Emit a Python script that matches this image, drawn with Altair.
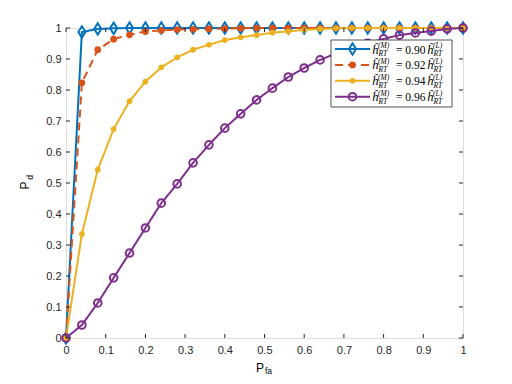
import altair as alt
import pandas as pd

pfa = [0.00, 0.04, 0.08, 0.12, 0.16, 0.20, 0.24, 0.28, 0.32, 0.36, 0.40, 0.44, 0.48,
       0.52, 0.56, 0.60, 0.64, 0.68, 0.72, 0.76, 0.80, 0.84, 0.88, 0.92, 0.96, 1.00]

pd_090 = [0, 0.987, 0.997, 0.999, 1, 1, 1, 1, 1, 1, 1, 1, 1,
          1, 1, 1, 1, 1, 1, 1, 1, 1, 1, 1, 1, 1]
pd_092 = [0, 0.823, 0.930, 0.964, 0.978, 0.989, 0.992, 0.995, 0.996, 0.997, 0.998, 0.999, 1,
          1, 1, 1, 1, 1, 1, 1, 1, 1, 1, 1, 1, 1]
pd_094 = [0, 0.335, 0.543, 0.674, 0.764, 0.827, 0.873, 0.905, 0.930, 0.946, 0.961, 0.970, 0.977,
          0.985, 0.989, 0.994, 0.997, 0.999, 1, 1, 1, 1, 1, 1, 1, 1]
pd_096 = [0, 0.042, 0.113, 0.194, 0.274, 0.355, 0.435, 0.497, 0.565, 0.623, 0.677, 0.723, 0.768,
          0.806, 0.842, 0.871, 0.897, 0.918, 0.936, 0.951, 0.965, 0.977, 0.984, 0.990, 0.997, 1.0]

ratios = ["0.90", "0.92", "0.94", "0.96"]
colors = ["#0072BD", "#D95319", "#EDB120", "#7E2F8E"]
ticks = [0, 0.1, 0.2, 0.3, 0.4, 0.5, 0.6, 0.7, 0.8, 0.9, 1]

W, H = 397, 310
AX = "#262626"
SANS = "Liberation Sans"
SERIF = "Liberation Serif"

xs = alt.Scale(domain=[0, 1], nice=False, zero=False)
ys = alt.Scale(domain=[0, 1], nice=False, zero=False)

xaxis = alt.Axis(values=ticks, format="~g", ticks=False, domain=False, grid=False, title=None,
                 labelFont=SANS, labelFontSize=11, labelColor=AX, labelPadding=6,
                 labelOverlap=False, labelFlush=False, labelBound=False)
yaxis = alt.Axis(values=ticks, format="~g", ticks=False, domain=False, grid=False, title=None,
                 labelFont=SANS, labelFontSize=11, labelColor=AX, labelPadding=5,
                 labelOverlap=False, labelFlush=False, labelBound=False)

def X(f):
    return alt.X(f, scale=xs, axis=xaxis)

def Y(f):
    return alt.Y(f, scale=ys, axis=yaxis)

diamond = "M0,-1L0.62,0L0,1L-0.62,0Z"
styles = [
    dict(shape=diamond, size=130, filled=False, dash=[1, 0]),
    dict(shape="circle", size=45, filled=True, dash=[8, 5]),
    dict(shape="circle", size=32, filled=True, dash=[1, 0]),
    dict(shape="circle", size=58, filled=False, dash=[1, 0]),
]
series = [pd_090, pd_092, pd_094, pd_096]

layers = []
for vals, col, st in zip(series, colors, styles):
    df = pd.DataFrame({"pfa": pfa, "pd": vals})
    line = alt.Chart(df).mark_line(color=col, strokeWidth=2, strokeDash=st["dash"]).encode(
        x=X("pfa:Q"), y=Y("pd:Q"))
    pts = alt.Chart(df).mark_point(shape=st["shape"], size=st["size"], filled=st["filled"],
                                    color=col, strokeWidth=2, opacity=1,
                                    fillOpacity=1).encode(x=X("pfa:Q"), y=Y("pd:Q"))
    layers += [line, pts]

# inward ticks on all four sides
tdf = pd.DataFrame({"t": ticks})
tick_layers = [
    alt.Chart(tdf).mark_rule(color=AX, strokeWidth=1).encode(x=X("t:Q"), y=alt.value(H), y2=alt.value(H - 4)),
    alt.Chart(tdf).mark_rule(color=AX, strokeWidth=1).encode(x=X("t:Q"), y=alt.value(0), y2=alt.value(4)),
    alt.Chart(tdf).mark_rule(color=AX, strokeWidth=1).encode(y=Y("t:Q"), x=alt.value(0), x2=alt.value(4)),
    alt.Chart(tdf).mark_rule(color=AX, strokeWidth=1).encode(y=Y("t:Q"), x=alt.value(W), x2=alt.value(W - 4)),
]

one = pd.DataFrame({"a": [0]})

def txt(x, y, s, size, font=SERIF, style="normal", angle=0, align="left", baseline="alphabetic"):
    return alt.Chart(one).mark_text(text=s, font=font, fontSize=size, fontStyle=style, color="#000000",
                                    align=align, baseline=baseline, angle=angle).encode(
        x=alt.value(x), y=alt.value(y))

# axis titles
titles = [
    txt(194, 343.5, "P", 12, font=SANS, align="center"),
    txt(202.5, 346, "fa", 8.5, font=SANS, align="center"),
    txt(-37, 157.5, "P", 12, font=SANS, angle=270, align="center"),
    txt(-33.5, 149.5, "d", 8.5, font=SANS, angle=270, align="center"),
]

# legend
leg = [alt.Chart(one).mark_rect(fill="white", stroke=AX, strokeWidth=0.8).encode(
    x=alt.value(265), x2=alt.value(386), y=alt.value(12), y2=alt.value(79))]
for i, (r, col, st) in enumerate(zip(ratios, colors, styles)):
    ry = 21 + 15.9 * i
    leg.append(alt.Chart(one).mark_rule(color=col, strokeWidth=2, strokeDash=st["dash"]).encode(
        x=alt.value(269), x2=alt.value(304), y=alt.value(ry)))
    leg.append(alt.Chart(one).mark_point(shape=st["shape"], size=st["size"], filled=st["filled"],
                                         color=col, strokeWidth=2, opacity=1).encode(
        x=alt.value(286.5), y=alt.value(ry)))
    leg.append(txt(306, ry + 4.5, "ĥ", 12.5, style="italic"))
    leg.append(txt(312, ry - 1.2, "(M)", 7.5, style="italic"))
    leg.append(txt(312.5, ry + 6.8, "RT", 7.5, style="italic"))
    leg.append(txt(330, ry + 4.5, "= " + r, 11.5))
    leg.append(txt(361, ry + 4.5, "ĥ", 12.5, style="italic"))
    leg.append(txt(367, ry - 1.2, "(L)", 7.5, style="italic"))
    leg.append(txt(367.5, ry + 6.8, "RT", 7.5, style="italic"))

chart = alt.layer(*(layers + tick_layers + titles + leg)).properties(
    width=W, height=H,
    autosize=alt.AutoSizeParams(type="none"),
    padding={"left": 58, "top": 20, "right": 41, "bottom": 38},
).configure_view(stroke="#4d4d4d", strokeWidth=1).configure(background="white")

chart.save("out.html", embed_options={"renderer": "svg", "actions": False})
